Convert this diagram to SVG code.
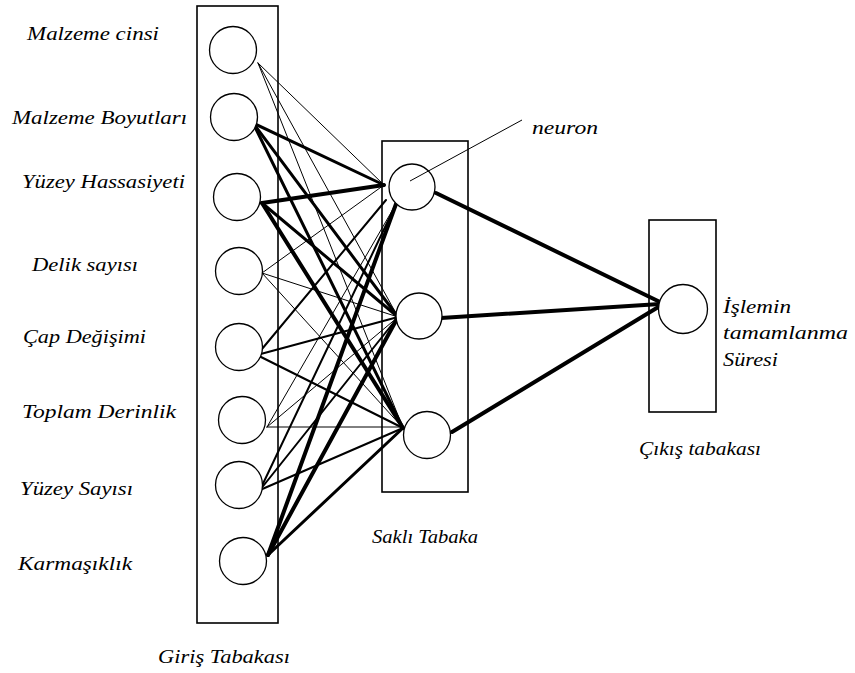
<svg xmlns="http://www.w3.org/2000/svg" width="855" height="673" viewBox="0 0 855 673" font-family="'Liberation Serif', 'Times New Roman', 'DejaVu Serif', serif">
  <style>
    .box { fill: none; stroke: #000; stroke-width: 1.6; }
    .neuron { fill: #fff; stroke: #000; stroke-width: 1.3; }
    .lbl { font-family: 'Liberation Serif', 'Times New Roman', 'DejaVu Serif', serif; font-style: italic; font-size: 19px; fill: #000; }
    .link { stroke: #000; stroke-linecap: round; fill: none; }
    .w1 { stroke-width: 1; }
    .w2 { stroke-width: 2; }
    .w3 { stroke-width: 3; }
    .w4 { stroke-width: 4; }
  </style>
  <rect width="855" height="673" fill="#fff"/>

  <!-- layer frames -->
  <g id="input-layer">
    <rect class="box" x="197" y="6" width="81" height="617"/>
    <text class="lbl" x="158" y="663" textLength="132" lengthAdjust="spacingAndGlyphs">Giriş Tabakası</text>
  </g>
  <g id="hidden-layer">
    <rect class="box" x="382" y="141" width="86" height="351"/>
    <text class="lbl" x="372" y="543" textLength="106" lengthAdjust="spacingAndGlyphs">Saklı Tabaka</text>
  </g>
  <g id="output-layer">
    <rect class="box" x="649" y="220" width="67" height="192"/>
    <text class="lbl" x="639" y="455" textLength="122" lengthAdjust="spacingAndGlyphs">Çıkış tabakası</text>
  </g>

  <!-- weighted links between layers -->
  <g id="connectors">
    <!-- Malzeme cinsi -->
    <line class="link w1" x1="258" y1="63" x2="384" y2="185"/>
    <line class="link w1" x1="258" y1="63" x2="398" y2="317"/>
    <line class="link w1" x1="258" y1="63" x2="403" y2="428"/>
    <!-- Malzeme Boyutları -->
    <line class="link w3" x1="253" y1="123" x2="384" y2="185"/>
    <line class="link w3" x1="253" y1="123" x2="398" y2="317"/>
    <line class="link w3" x1="253" y1="123" x2="403" y2="428"/>
    <!-- Yüzey Hassasiyeti -->
    <line class="link w4" x1="262" y1="203" x2="384" y2="185"/>
    <line class="link w3" x1="262" y1="203" x2="398" y2="317"/>
    <line class="link w4" x1="262" y1="203" x2="403" y2="428"/>
    <!-- Delik sayısı -->
    <line class="link w1" x1="262" y1="273" x2="384" y2="185"/>
    <line class="link w1" x1="262" y1="273" x2="398" y2="317"/>
    <line class="link w1" x1="262" y1="273" x2="403" y2="428"/>
    <!-- Çap Değişimi -->
    <line class="link w2" x1="257" y1="355" x2="386" y2="200"/>
    <line class="link w2" x1="257" y1="355" x2="398" y2="317"/>
    <line class="link w2" x1="257" y1="355" x2="403" y2="428"/>
    <!-- Toplam Derinlik -->
    <line class="link w1" x1="267" y1="427" x2="396" y2="204"/>
    <line class="link w1" x1="267" y1="427" x2="398" y2="317"/>
    <line class="link w1" x1="267" y1="427" x2="403" y2="427"/>
    <!-- Yüzey Sayısı -->
    <line class="link w2" x1="260" y1="490" x2="396" y2="204"/>
    <line class="link w2" x1="260" y1="490" x2="398" y2="317"/>
    <line class="link w2" x1="260" y1="490" x2="403" y2="428"/>
    <!-- Karmaşıklık -->
    <line class="link w4" x1="268" y1="555" x2="396" y2="204"/>
    <line class="link w4" x1="268" y1="555" x2="398" y2="317"/>
    <line class="link w3" x1="268" y1="555" x2="403" y2="428"/>
    <!-- hidden to output -->
    <line class="link w4" x1="436" y1="193" x2="660" y2="302"/>
    <line class="link w4" x1="441" y1="318" x2="660" y2="304"/>
    <line class="link w4" x1="452" y1="432" x2="660" y2="306"/>
  </g>

  <!-- input neurons -->
  <g id="in-malzeme-cinsi">
    <circle class="neuron" cx="233" cy="50" r="23.5"/>
    <text class="lbl" x="27" y="40" textLength="132" lengthAdjust="spacingAndGlyphs">Malzeme cinsi</text>
  </g>
  <g id="in-malzeme-boyutlari">
    <circle class="neuron" cx="234" cy="117" r="23.5"/>
    <text class="lbl" x="12" y="124" textLength="175" lengthAdjust="spacingAndGlyphs">Malzeme Boyutları</text>
  </g>
  <g id="in-yuzey-hassasiyeti">
    <circle class="neuron" cx="237" cy="197" r="23.5"/>
    <text class="lbl" x="22" y="188" textLength="163" lengthAdjust="spacingAndGlyphs">Yüzey Hassasiyeti</text>
  </g>
  <g id="in-delik-sayisi">
    <circle class="neuron" cx="239" cy="271" r="23.5"/>
    <text class="lbl" x="32" y="271" textLength="106" lengthAdjust="spacingAndGlyphs">Delik sayısı</text>
  </g>
  <g id="in-cap-degisimi">
    <circle class="neuron" cx="239" cy="347" r="23.5"/>
    <text class="lbl" x="23" y="343" textLength="123" lengthAdjust="spacingAndGlyphs">Çap Değişimi</text>
  </g>
  <g id="in-toplam-derinlik">
    <circle class="neuron" cx="242" cy="420" r="23.5"/>
    <text class="lbl" x="22" y="418" textLength="154" lengthAdjust="spacingAndGlyphs">Toplam Derinlik</text>
  </g>
  <g id="in-yuzey-sayisi">
    <circle class="neuron" cx="239" cy="485" r="23.5"/>
    <text class="lbl" x="20" y="495" textLength="113" lengthAdjust="spacingAndGlyphs">Yüzey Sayısı</text>
  </g>
  <g id="in-karmasiklik">
    <circle class="neuron" cx="243" cy="561" r="23.5"/>
    <text class="lbl" x="18" y="570" textLength="114" lengthAdjust="spacingAndGlyphs">Karmaşıklık</text>
  </g>

  <!-- hidden neurons -->
  <g id="hidden-1">
    <circle class="neuron" cx="412" cy="187" r="23"/>
    <line x1="410" y1="181" x2="522" y2="120" stroke="#000" stroke-width="1"/>
    <text class="lbl" x="532" y="134" textLength="66" lengthAdjust="spacingAndGlyphs">neuron</text>
  </g>
  <g id="hidden-2">
    <circle class="neuron" cx="419" cy="316" r="23"/>
  </g>
  <g id="hidden-3">
    <circle class="neuron" cx="427" cy="435" r="23.5"/>
  </g>

  <!-- output neuron -->
  <g id="output">
    <circle class="neuron" cx="683" cy="309" r="24.5"/>
    <text class="lbl" x="723" y="313" textLength="68" lengthAdjust="spacingAndGlyphs">İşlemin</text>
    <text class="lbl" x="723" y="339" textLength="125" lengthAdjust="spacingAndGlyphs">tamamlanma</text>
    <text class="lbl" x="723" y="366" textLength="55" lengthAdjust="spacingAndGlyphs">Süresi</text>
  </g>
</svg>
